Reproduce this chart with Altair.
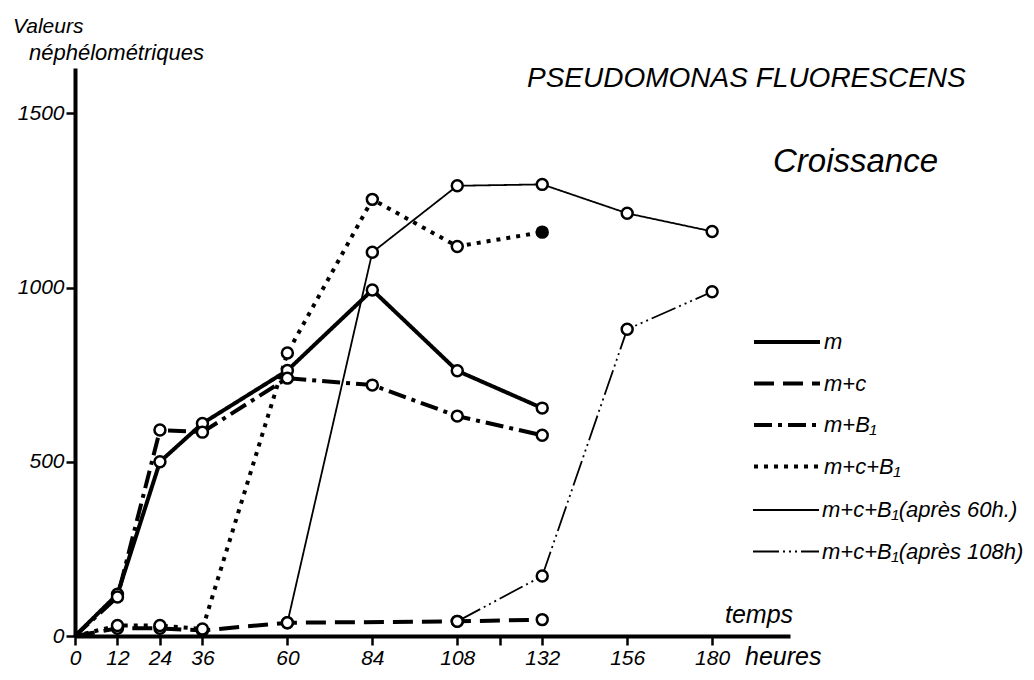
import altair as alt
import pandas as pd

# ---- data ----
series_names = [
    "m",
    "m+c",
    "m+B₁",
    "m+c+B₁",
    "m+c+B₁(après 60h.)",
    "m+c+B₁(après 108h)",
]

hours_m = [0, 12, 24, 36, 60, 84, 108, 132]
vals_m = [0, 120, 500, 610, 762, 993, 761, 654]

hours_mc = [0, 12, 24, 36, 60, 108, 132]
vals_mc = [0, 22, 22, 16, 38, 42, 47]

hours_mb = [0, 12, 24, 36, 60, 84, 108, 132]
vals_mb = [0, 112, 591, 585, 740, 720, 631, 576]

hours_mcb = [0, 12, 24, 36, 60, 84, 108, 132]
vals_mcb = [0, 30, 30, 20, 812, 1253, 1118, 1159]
filled_mcb = [0, 0, 0, 0, 0, 0, 0, 1]

hours_a60 = [60, 84, 108, 132, 156, 180]
vals_a60 = [38, 1101, 1292, 1296, 1213, 1161]

hours_a108 = [108, 132, 156, 180]
vals_a108 = [42, 172, 880, 988]

x_ticks = [0, 12, 24, 36, 60, 84, 108, 120, 132, 156, 180]
y_ticks = [0, 500, 1000, 1500]

# ---- build table ----
rows = []
def add(name, hs, vs, filled=None):
    for i, (h, v) in enumerate(zip(hs, vs)):
        rows.append({"series": name, "t": h, "v": v,
                     "fill": "filled" if (filled and filled[i]) else "open",
                     "thin": "après" in name})

add(series_names[0], hours_m, vals_m)
add(series_names[1], hours_mc, vals_mc)
add(series_names[2], hours_mb, vals_mb)
add(series_names[3], hours_mcb, vals_mcb, filled_mcb)
add(series_names[4], hours_a60, vals_a60)
add(series_names[5], hours_a108, vals_a108)
df = pd.DataFrame(rows)

FONT = "Liberation Sans"

dashes_thick = [[1, 0], [20, 9], [18, 6, 4, 6], [4, 6]]
dashes_thin = [[1, 0], [26, 4, 2, 4, 2, 4, 2, 4]]

xscale = alt.Scale(domain=[0, 202], nice=False, zero=False)
yscale = alt.Scale(domain=[0, 1630], nice=False)

axis_style = dict(title=None, grid=False, format="d",
                  domainWidth=4, domainColor="black", tickColor="black",
                  tickWidth=2.5, tickSize=9, labelFontSize=21,
                  labelFontStyle="italic", labelFont=FONT, labelColor="black",
                  labelPadding=2, labelFlush=False, labelOverlap=False)

xaxis = alt.Axis(values=x_ticks, labelExpr="datum.value == 120 ? '' : datum.label",
                 **axis_style)
yaxis = alt.Axis(values=y_ticks, **axis_style)

def make_legend(y, sw):
    return alt.Legend(
        title=None, orient="none", legendX=677, legendY=y,
        symbolType="stroke", symbolSize=4356, symbolStrokeColor="black",
        symbolStrokeWidth=sw, clipHeight=38,
        labelFont=FONT, labelFontSize=22, labelFontStyle="italic", labelColor="black",
        labelOffset=2, rowPadding=3.5, labelLimit=400,
    )

lines_thick = alt.Chart(df).transform_filter("!datum.thin").mark_line(
    color="black", strokeCap="butt", strokeJoin="round", strokeWidth=4
).encode(
    x=alt.X("t:Q", scale=xscale, axis=xaxis),
    y=alt.Y("v:Q", scale=yscale, axis=yaxis),
    strokeDash=alt.StrokeDash("series:N",
                              scale=alt.Scale(domain=series_names[:4], range=dashes_thick),
                              legend=make_legend(255, 4)),
    order="t:Q",
)

lines_thin = alt.Chart(df).transform_filter("datum.thin").transform_calculate(
    series2="datum.series"
).mark_line(
    color="black", strokeCap="butt", strokeJoin="round", strokeWidth=1.8
).encode(
    x=alt.X("t:Q", scale=xscale),
    y=alt.Y("v:Q", scale=yscale),
    strokeDash=alt.StrokeDash("series2:N",
                              scale=alt.Scale(domain=series_names[4:], range=dashes_thin),
                              legend=make_legend(423, 1.8)),
    order="t:Q",
)

points = alt.Chart(df).transform_filter("datum.t > 0").mark_point(
    shape="circle", size=120, strokeWidth=2.5, stroke="black", opacity=1
).encode(
    x=alt.X("t:Q", scale=xscale),
    y=alt.Y("v:Q", scale=yscale),
    fill=alt.Fill("fill:N", scale=alt.Scale(domain=["open", "filled"], range=["white", "black"]),
                  legend=None),
)

def label(txt, x, y, size, align="left"):
    return alt.Chart(pd.DataFrame({"txt": [txt]})).mark_text(
        font=FONT, fontSize=size, fontStyle="italic", color="black",
        align=align, baseline="alphabetic"
    ).encode(text="txt:N", x=alt.value(x), y=alt.value(y))

texts = [
    label("PSEUDOMONAS FLUORESCENS", 452, 19, 28),
    label("Croissance", 698, 104, 33),
    label("temps", 650, 555, 25),
    label("heures", 670, 597, 25),
    label("Valeurs", -62, -35, 21),
    label("néphélométriques", -46, -8, 22),
]

chart = alt.layer(lines_thick, lines_thin, points, *texts).resolve_scale(
    strokeDash="independent"
).resolve_legend(strokeDash="independent").properties(
    width=715, height=568,
    autosize=alt.AutoSizeParams(type="none"),
    padding={"left": 67, "top": 60, "right": 236, "bottom": 38},
    background="white",
).configure_view(stroke=None)

chart.save("out.html", embed_options={"renderer": "svg", "actions": False})
